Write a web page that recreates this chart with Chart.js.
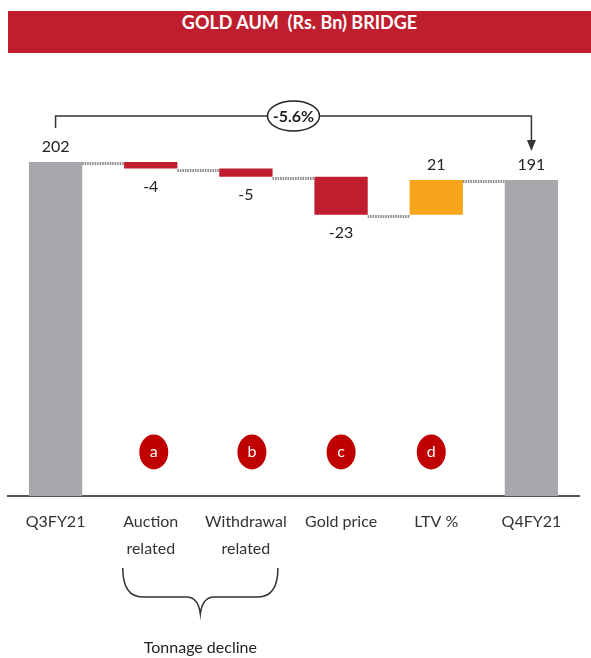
<!DOCTYPE html>
<html>
<head>
<meta charset="utf-8">
<script src="https://cdn.jsdelivr.net/npm/chart.js@4"></script>
<style>
    body { margin: 0; background: #fff; }
    #wrap { position: relative; width: 591px; height: 658px; overflow: hidden; }
    #title {
        position: absolute; left: 8px; top: 11px; width: 583px; height: 42px;
        background: #BE1E2D; color: #fff; text-align: center; line-height: 42px;
        font: bold 18px Lato, 'Liberation Sans', sans-serif;
        white-space: pre;
    }
    canvas { position: absolute; left: 0; top: 0; }
</style>
</head>
<body>
<div id="wrap">
    <canvas id="bridge" width="591" height="658"></canvas>
    <div id="title">GOLD AUM  (Rs. Bn) BRIDGE</div>
</div>
<script>
const categories = [['Q3FY21'], ['Auction', 'related'], ['Withdrawal', 'related'], ['Gold price'], ['LTV %'], ['Q4FY21']];
const startValue = 202;
const deltas = [-4, -5, -23, 21];
const endValue = 191;
const valueLabels = ['202', '-4', '-5', '-23', '21', '191'];
const markers = ['', 'a', 'b', 'c', 'd', ''];
const changeLabel = '-5.6%';
const braceLabel = 'Tonnage decline';

const FONT = "Lato, 'Liberation Sans', sans-serif";

// floating ranges for the waterfall
const ranges = [[0, startValue]];
const colors = ['#A6A8AB'];
let running = startValue;
for (const d of deltas) {
    ranges.push([running, running + d]);
    colors.push(d < 0 ? '#BE1E2D' : '#F9A51B');
    running += d;
}
ranges.push([0, endValue]);
colors.push('#A6A8AB');

const bridgePlugin = {
    id: 'bridge',
    afterDatasetsDraw(chart) {
        const ctx = chart.ctx;
        const x = chart.scales.x;
        const y = chart.scales.y;
        const meta = chart.getDatasetMeta(0);
        const area = chart.chartArea;
        ctx.save();

        // dotted connectors
        ctx.strokeStyle = '#8a8a8a';
        ctx.lineWidth = 3;
        ctx.setLineDash([1.5, 1]);
        for (let i = 0; i < ranges.length - 1; i++) {
            const a = meta.data[i], b = meta.data[i + 1];
            const level = ranges[i][1];
            const py = Math.round(y.getPixelForValue(level)) + 1.5;
            ctx.beginPath();
            ctx.moveTo(a.x + a.width / 2, py);
            ctx.lineTo(b.x - b.width / 2, py);
            ctx.stroke();
        }
        ctx.setLineDash([]);

        // value labels
        ctx.fillStyle = '#222';
        ctx.font = '16px ' + FONT;
        ctx.textAlign = 'center';
        ctx.textBaseline = 'middle';
        ranges.forEach((r, i) => {
            const bar = meta.data[i];
            const top = y.getPixelForValue(Math.max(r[0], r[1]));
            const bottom = y.getPixelForValue(Math.min(r[0], r[1]));
            const neg = r[1] < r[0];
            ctx.fillText(valueLabels[i], bar.x, neg ? bottom + 18 : top - 15);
        });

        // markers a-d
        markers.forEach((m, i) => {
            if (!m) return;
            const cx = x.getPixelForValue(i) + [0, 3, 6, 0, -5, 0][i];
            const cy = area.bottom - 44;
            ctx.fillStyle = '#C00000';
            ctx.beginPath();
            ctx.ellipse(cx, cy, 14.5, 17.5, 0, 0, Math.PI * 2);
            ctx.fill();
            ctx.fillStyle = '#fff';
            ctx.font = '16px ' + FONT;
            ctx.fillText(m, cx, cy);
        });

        // overall change bracket
        const x0 = meta.data[0].x;
        const x1 = meta.data[ranges.length - 1].x;
        const yl = 116;
        ctx.strokeStyle = '#333';
        ctx.lineWidth = 1.5;
        ctx.beginPath();
        ctx.moveTo(x0, 128);
        ctx.lineTo(x0, yl);
        ctx.lineTo(x1, yl);
        ctx.lineTo(x1, 142);
        ctx.stroke();
        ctx.fillStyle = '#333';
        ctx.beginPath();
        ctx.moveTo(x1 - 4.5, 140);
        ctx.lineTo(x1 + 4.5, 140);
        ctx.lineTo(x1, 151);
        ctx.closePath();
        ctx.fill();

        const ex = (x0 + x1) / 2;
        ctx.fillStyle = '#fff';
        ctx.strokeStyle = '#222';
        ctx.lineWidth = 1.5;
        ctx.beginPath();
        ctx.ellipse(ex, yl, 26, 15, 0, 0, Math.PI * 2);
        ctx.fill();
        ctx.stroke();
        ctx.fillStyle = '#222';
        ctx.font = 'bold 16px ' + FONT;
        ctx.fillText(changeLabel, ex, yl + 1);

        // brace under tonnage items
        const bl = x.getPixelForValue(1) - 28;
        const br = x.getPixelForValue(2) + 32;
        const bm = (bl + br) / 2;
        const bt = 568, bb = 597, tip = 614;
        ctx.strokeStyle = '#333';
        ctx.lineWidth = 1.5;
        ctx.beginPath();
        ctx.moveTo(bl, bt);
        ctx.quadraticCurveTo(bl, bb, bl + 20, bb);
        ctx.lineTo(bm - 14, bb);
        ctx.quadraticCurveTo(bm - 2, bb, bm, tip);
        ctx.quadraticCurveTo(bm + 2, bb, bm + 14, bb);
        ctx.lineTo(br - 20, bb);
        ctx.quadraticCurveTo(br, bb, br, bt);
        ctx.stroke();
        ctx.fillStyle = '#222';
        ctx.font = '16px ' + FONT;
        ctx.fillText(braceLabel, bm, 648);

        ctx.restore();
    }
};

new Chart(document.getElementById('bridge'), {
    type: 'bar',
    data: {
        labels: categories,
        datasets: [{
            data: ranges,
            backgroundColor: colors,
            borderWidth: 0,
            barPercentage: 0.56,
            categoryPercentage: 1
        }]
    },
    options: {
        responsive: false,
        animation: false,
        devicePixelRatio: 1,
        layout: { padding: { top: 66, left: 8, right: 12, bottom: 0 } },
        plugins: {
            legend: { display: false },
            tooltip: { enabled: false }
        },
        scales: {
            x: {
                grid: { display: false, drawTicks: false },
                border: { display: true, color: '#555', width: 2 },
                ticks: {
                    color: '#333',
                    padding: 12,
                    font: { family: FONT, size: 16, lineHeight: 1.7 }
                },
                afterFit(scale) { scale.height = 162; }
            },
            y: {
                display: false,
                min: 0,
                max: 260
            }
        }
    },
    plugins: [bridgePlugin]
});
</script>
</body>
</html>
